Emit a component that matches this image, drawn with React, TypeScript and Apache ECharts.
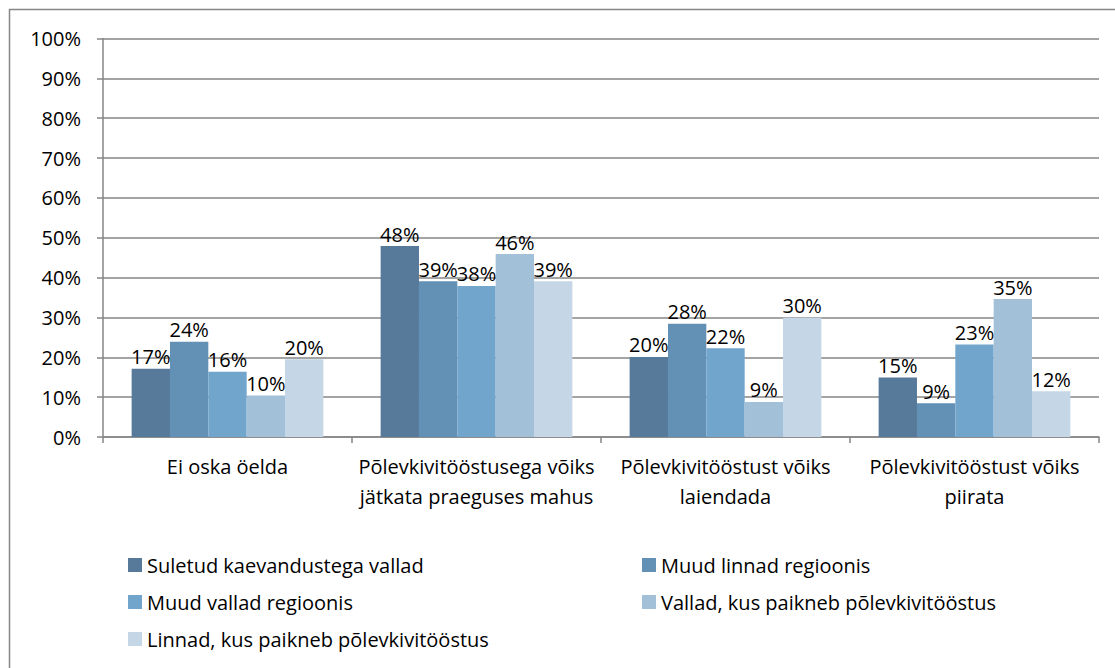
import React, { useEffect, useRef } from "react";
import * as echarts from "echarts";

const categories = [
  "Ei oska öelda",
  "Põlevkivitööstusega võiks\njätkata praeguses mahus",
  "Põlevkivitööstust võiks\nlaiendada",
  "Põlevkivitööstust võiks\npiirata",
];
const seriesNames = [
  "Suletud kaevandustega vallad",
  "Muud linnad regioonis",
  "Muud vallad regioonis",
  "Vallad, kus paikneb põlevkivitööstus",
  "Linnad, kus paikneb põlevkivitööstus",
];
const s1 = [17.1, 47.9, 20.1, 14.9];
const s2 = [23.9, 39.1, 28.4, 8.5];
const s3 = [16.4, 37.9, 22.3, 23.2];
const s4 = [10.4, 45.9, 8.8, 34.6];
const s5 = [19.5, 39.1, 29.9, 11.5];
const seriesValues = [s1, s2, s3, s4, s5];
const colors = ["#57799a", "#6391b5", "#72a5cc", "#a3c0d9", "#c5d7e6"];
const yTicks = [0, 10, 20, 30, 40, 50, 60, 70, 80, 90, 100];

const FONT = "'Open Sans', 'Noto Sans', sans-serif";

export default function App() {
  const ref = useRef<HTMLDivElement>(null);
  useEffect(() => {
    if (!ref.current) return;
    const chart = echarts.init(ref.current, null, { renderer: "svg" });
    const legendText = { fontFamily: FONT, fontSize: 20, color: "#000", lineHeight: 22 };
    chart.setOption({
      animation: false,
      backgroundColor: "#fff",
      textStyle: { fontFamily: FONT },
      grid: { left: 103, right: 16, top: 38.5, bottom: 231 },
      graphic: [
        {
          type: "rect",
          shape: { x: 9.5, y: 9.5, width: 1120, height: 680 },
          style: { fill: "none", stroke: "#868686", lineWidth: 1.5 },
          silent: true,
        },
      ],
      legend: [
        {
          data: [seriesNames[0], seriesNames[2], seriesNames[4]],
          orient: "vertical",
          left: 123,
          top: 549,
          itemWidth: 14,
          itemHeight: 14,
          itemGap: 15,
          icon: "rect",
          textStyle: legendText,
        },
        {
          data: [seriesNames[1], seriesNames[3]],
          orient: "vertical",
          left: 637,
          top: 549,
          itemWidth: 14,
          itemHeight: 14,
          itemGap: 15,
          icon: "rect",
          textStyle: legendText,
        },
      ],
      xAxis: {
        type: "category",
        data: categories,
        axisLine: { lineStyle: { color: "#868686", width: 1.5 } },
        axisTick: { show: true, length: 6, lineStyle: { color: "#868686", width: 1.5 } },
        axisLabel: {
          interval: 0,
          fontFamily: FONT,
          fontSize: 20,
          color: "#000",
          lineHeight: 30,
          margin: 14,
          verticalAlign: "top",
        },
      },
      yAxis: {
        type: "value",
        min: 0,
        max: 100,
        interval: 10,
        axisLine: { show: true, lineStyle: { color: "#868686", width: 1.5 } },
        axisTick: { show: true, length: 6, lineStyle: { color: "#868686", width: 1.5 } },
        splitLine: { lineStyle: { color: "#868686", width: 1.5 } },
        axisLabel: {
          formatter: (v: number) => (yTicks.includes(v) ? v + "%" : ""),
          fontFamily: FONT,
          fontSize: 20,
          color: "#000",
          margin: 22,
        },
      },
      series: seriesValues.map((vals, i) => ({
        name: seriesNames[i],
        type: "bar",
        data: vals,
        barGap: "0%",
        barCategoryGap: "23%",
        itemStyle: { color: colors[i] },
        label: {
          show: true,
          position: "top",
          distance: 2,
          fontFamily: FONT,
          fontSize: 20,
          color: "#000",
          formatter: (p: any) => Math.round(p.value) + "%",
        },
      })),
    });
    return () => chart.dispose();
  }, []);
  return <div ref={ref} style={{ width: 1115, height: 668, position: "absolute", left: 0, top: 0 }} />;
}
